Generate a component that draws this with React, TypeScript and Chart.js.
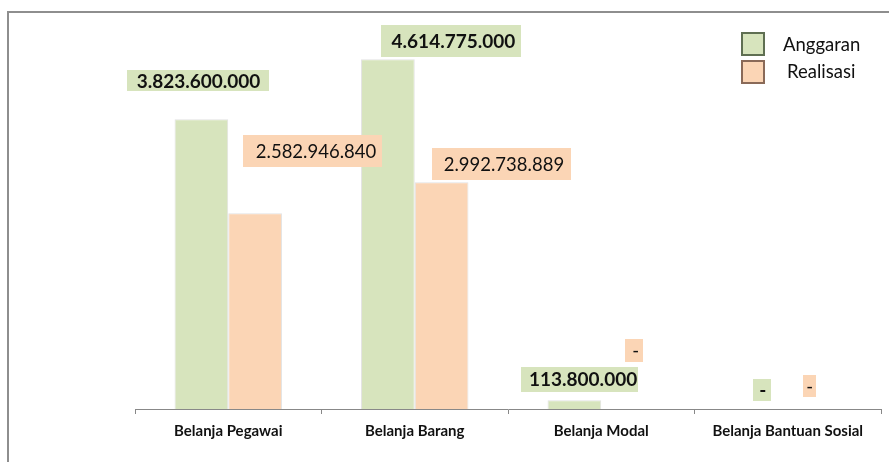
import React, { useEffect, useRef } from "react";
import { Chart, registerables } from "chart.js";

Chart.register(...registerables);

const categories = ["Belanja Pegawai", "Belanja Barang", "Belanja Modal", "Belanja Bantuan Sosial"];
const seriesNames = ["Anggaran", "Realisasi"];
const anggaran = [3823600000, 4614775000, 113800000, 0];
const realisasi = [2582946840, 2992738889, 0, 0];
const yMax = 5000000000;

const FILLS = ["#d7e4bd", "#fbd5b5"];
const LEGEND_BORDERS = ["#5f6f52", "#8a6a58"];
const FONT = "Lato, 'Open Sans', sans-serif";

// label box placement relative to the top-centre of each bar: [dx, dy, w, h, padRight]
const labelLayout = [
  [
    [-3, -38.5, 142, 21, 9],
    [63.4, -18, 140, 32, 6],
    [5.3, -21, 117, 25, 1],
    [1.4, -19, 18, 22, 5],
  ],
  [
    [57.6, -62, 139, 32, 6],
    [60, -18, 139, 32, 7],
    [6, -58.5, 18, 23, 4],
    [-5, -23, 13, 22, 3],
  ],
];

function fmt(v: number): string {
  if (!v) return "-";
  return String(Math.round(v)).replace(/\B(?=(\d{3})+(?!\d))/g, ".");
}

const decorPlugin = {
  id: "decor",
  beforeDraw(chart: any) {
    const ctx = chart.ctx;
    ctx.save();
    ctx.strokeStyle = "#8e8e8e";
    ctx.lineWidth = 2;
    ctx.beginPath();
    ctx.moveTo(8, chart.height + 5);
    ctx.lineTo(8, 12);
    ctx.lineTo(chart.width + 5, 12);
    ctx.stroke();
    ctx.restore();
  },
  afterDatasetsDraw(chart: any) {
    const ctx = chart.ctx;
    ctx.save();
    chart.data.datasets.forEach((ds: any, di: number) => {
      const meta = chart.getDatasetMeta(di);
      meta.data.forEach((bar: any, i: number) => {
        const [dx, dy, w, h, pr] = labelLayout[di][i];
        const cx = bar.x + dx;
        const cy = bar.y + dy;
        ctx.fillStyle = FILLS[di];
        ctx.fillRect(Math.round(cx - w / 2), Math.round(cy - h / 2), w, h);
        ctx.fillStyle = "#111";
        ctx.font = (di === 0 ? "bold 19px " : "18.5px ") + FONT;
        ctx.textAlign = "right";
        ctx.textBaseline = "middle";
        ctx.fillText(fmt(ds.data[i]), cx + w / 2 - pr, cy + 1);
      });
    });
    ctx.restore();
  },
  afterDraw(chart: any) {
    const ctx = chart.ctx;
    ctx.save();
    const boxes = [
      [742, 33],
      [742, 61],
    ];
    const textPos = [
      [783, 45],
      [787, 72],
    ];
    seriesNames.forEach((name, i) => {
      const [bx, by] = boxes[i];
      ctx.fillStyle = FILLS[i];
      ctx.fillRect(bx, by, 22, 22);
      ctx.strokeStyle = LEGEND_BORDERS[i];
      ctx.lineWidth = 2;
      ctx.strokeRect(bx, by, 22, 22);
      ctx.fillStyle = "#111";
      ctx.font = "18.5px " + FONT;
      ctx.textAlign = "left";
      ctx.textBaseline = "middle";
      ctx.fillText(name, textPos[i][0], textPos[i][1]);
    });
    ctx.restore();
  },
};

export default function App() {
  const ref = useRef<HTMLCanvasElement | null>(null);
  useEffect(() => {
    if (!ref.current) return;
    const chart = new Chart(ref.current, {
      type: "bar",
      data: {
        labels: categories,
        datasets: [
          {
            label: seriesNames[0],
            data: anggaran,
            backgroundColor: FILLS[0],
            borderColor: "#e2e2e2",
            borderWidth: 1,
            categoryPercentage: 0.576,
            barPercentage: 1,
          },
          {
            label: seriesNames[1],
            data: realisasi,
            backgroundColor: FILLS[1],
            borderColor: "#e2e2e2",
            borderWidth: 1,
            categoryPercentage: 0.576,
            barPercentage: 1,
          },
        ],
      },
      options: {
        responsive: false,
        animation: false,
        layout: { padding: { left: 135, right: 8, top: 30, bottom: 0 } },
        plugins: { legend: { display: false }, tooltip: { enabled: false } },
        scales: {
          x: {
            afterFit: (scale: any) => {
              scale.height = 53;
            },
            grid: {
              offset: true,
              drawOnChartArea: false,
              drawTicks: true,
              tickLength: 5,
              color: "#888",
            },
            border: { display: true, color: "#888", width: 1 },
            ticks: {
              color: "#111",
              font: { family: FONT, size: 15, weight: "bold" },
              padding: 8,
              maxRotation: 0,
            },
          },
          y: { display: false, min: 0, max: yMax },
        },
      },
      plugins: [decorPlugin],
    });
    return () => chart.destroy();
  }, []);
  return (
    <div style={{ position: "absolute", left: 0, top: 0, width: 889, height: 462 }}>
      <canvas ref={ref} width={889} height={462} style={{ width: 889, height: 462 }} />
    </div>
  );
}
